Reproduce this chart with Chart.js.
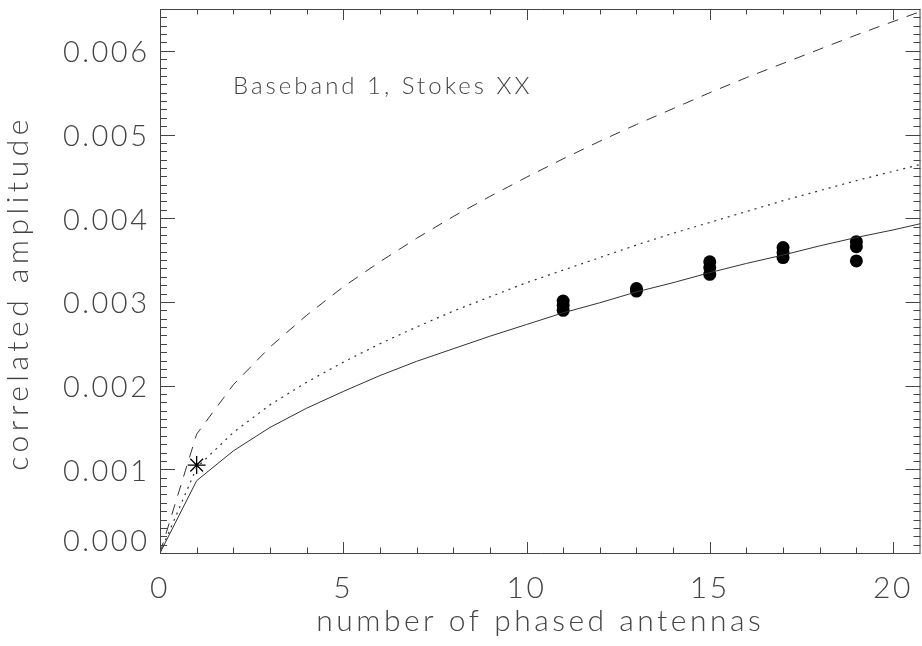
<!DOCTYPE html>
<html>
<head>
<meta charset="utf-8">
<title>Correlated amplitude vs phased antennas</title>
<script src="https://cdn.jsdelivr.net/npm/chart.js@4/dist/chart.umd.min.js"></script>
<style>
  html, body { margin: 0; padding: 0; background: #fff; }
  #wrap { width: 922px; height: 646px; }
</style>
</head>
<body>
<div id="wrap"><canvas id="diagram" width="922" height="646"></canvas></div>
<script>
// model curves, one value per number of phased antennas
let antennas   = [0, 1, 2, 3, 4, 5, 6, 7, 8, 9, 10, 11, 12, 13, 14, 15, 16, 17, 18, 19, 20, 21];
let ampSolid   = [0, 0.000864, 0.00122, 0.00150, 0.00173, 0.00193, 0.00212, 0.00229, 0.00244, 0.00259, 0.00273,
                  0.00287, 0.00299, 0.00312, 0.00323, 0.00335, 0.00346, 0.00356, 0.00367, 0.00377, 0.00386, 0.00396];
let ampDotted  = [0, 0.00102, 0.00144, 0.00177, 0.00204, 0.00228, 0.00250, 0.00270, 0.00289, 0.00306, 0.00323,
                  0.00338, 0.00353, 0.00368, 0.00382, 0.00395, 0.00408, 0.00421, 0.00433, 0.00445, 0.00456, 0.00467];
let ampDashed  = [0, 0.00142, 0.00201, 0.00246, 0.00284, 0.00318, 0.00348, 0.00376, 0.00402, 0.00426, 0.00449,
                  0.00471, 0.00492, 0.00512, 0.00531, 0.00550, 0.00568, 0.00585, 0.00602, 0.00619, 0.00635, 0.00651];

// measured amplitudes
let measuredN   = [11, 11, 11, 13, 13, 15, 15, 15, 17, 17, 17, 19, 19, 19];
let measuredAmp = [0.00301, 0.00296, 0.00290, 0.00316, 0.00313, 0.00348, 0.00341, 0.00333,
                   0.00365, 0.00359, 0.00353, 0.00372, 0.00366, 0.00349];

// single antenna
let singleN   = [1];
let singleAmp = [0.00105];

let xTicks      = [0, 5, 10, 15, 20];
let xTickLabels = ['0', '5', '10', '15', '20'];
let yTicks      = [0, 0.001, 0.002, 0.003, 0.004, 0.005, 0.006];
let yTickLabels = ['0.000', '0.001', '0.002', '0.003', '0.004', '0.005', '0.006'];

let xTitle = 'number of phased antennas';
let yTitle = 'correlated amplitude';
let plotNote = 'Baseband 1, Stokes XX';

let xMax = 20.75;
let yMax = 0.0065;

let fontFamily = "Lato, 'DejaVu Sans', sans-serif";
let textColor = '#444';
let lineColor = '#333';

function points(xs, ys) {
    return xs.map((x, i) => ({ x: x, y: ys[i] }));
}

// drop the label overflow padding so the plot box sits where the layout puts it
function noPadding(s) {
    s.paddingTop = 0;
    s.paddingBottom = 0;
    s.paddingLeft = 0;
    s.paddingRight = 0;
}

// wide, light lettering for the tick labels
let spacingPlugin = {
    id: 'spacing',
    beforeDraw(chart) { chart.ctx.letterSpacing = '2.5px'; },
    afterDraw(chart) { chart.ctx.letterSpacing = '0px'; }
};

// box with inward ticks on all four sides, axis titles and the annotation
let framePlugin = {
    id: 'frame',
    afterDatasetsDraw(chart) {
        let ctx = chart.ctx;
        let a = chart.chartArea;
        let xs = chart.scales.x;
        let ys = chart.scales.y;

        ctx.save();
        ctx.strokeStyle = '#444';
        ctx.lineWidth = 1;
        ctx.beginPath();
        ctx.rect(a.left + 0.5, a.top + 0.5, a.right - a.left - 1, a.bottom - a.top);
        ctx.stroke();

        ctx.beginPath();
        for (let v = 0; v <= xMax + 1e-9; v += 1) {
            let px = Math.round(xs.getPixelForValue(v)) + 0.5;
            let len = xTicks.includes(v) ? 11 : 5.5;
            ctx.moveTo(px, a.bottom);
            ctx.lineTo(px, a.bottom - len);
            ctx.moveTo(px, a.top);
            ctx.lineTo(px, a.top + len);
        }
        for (let k = 0; k <= 65; k++) {
            let v = k / 10000;
            let py = Math.round(ys.getPixelForValue(v)) + 0.5;
            let len = k % 10 === 0 ? 15 : 7;
            ctx.moveTo(a.left, py);
            ctx.lineTo(a.left + len, py);
            ctx.moveTo(a.right, py);
            ctx.lineTo(a.right - len, py);
        }
        ctx.stroke();

        ctx.fillStyle = textColor;
        ctx.textBaseline = 'middle';

        ctx.letterSpacing = '3px';
        ctx.font = '300 24px ' + fontFamily;
        ctx.textAlign = 'left';
        ctx.fillText(plotNote, a.left + 73, a.top + 77);

        ctx.letterSpacing = '3.5px';
        ctx.font = '300 30px ' + fontFamily;
        ctx.textAlign = 'center';
        ctx.fillText(xTitle, (a.left + a.right) / 2, 621);

        ctx.letterSpacing = '4.5px';
        ctx.translate(18, 293);
        ctx.rotate(-Math.PI / 2);
        ctx.fillText(yTitle, 0, 0);
        ctx.restore();
    }
};

let createChartConfig = () => {
    return {
        type: 'scatter',
        data: {
            datasets: [
                { data: points(antennas, ampSolid), showLine: true, borderColor: lineColor,
                  borderWidth: 1, pointRadius: 0, tension: 0 },
                { data: points(antennas, ampDotted), showLine: true, borderColor: lineColor,
                  borderWidth: 1.2, borderDash: [2, 5], pointRadius: 0, tension: 0 },
                { data: points(antennas, ampDashed), showLine: true, borderColor: lineColor,
                  borderWidth: 1, borderDash: [11, 9], pointRadius: 0, tension: 0 },
                { data: points(measuredN, measuredAmp), showLine: false, pointStyle: 'circle',
                  pointRadius: 6.5, backgroundColor: '#000', borderWidth: 0 },
                { data: points(singleN, singleAmp), showLine: false, pointStyle: 'star',
                  pointRadius: 9, borderColor: '#000', borderWidth: 1.3 }
            ]
        },
        options: {
            responsive: false,
            animation: false,
            devicePixelRatio: 1,
            layout: { autoPadding: false, padding: { top: 9, right: 1.5, left: 0, bottom: 0 } },
            plugins: { legend: { display: false }, tooltip: { enabled: false } },
            scales: {
                x: {
                    type: 'linear', min: 0, max: xMax,
                    grid: { display: false, drawTicks: false }, border: { display: false },
                    afterBuildTicks: s => { s.ticks = xTicks.map(v => ({ value: v })); },
                    afterFit: s => { s.height = 93; noPadding(s); },
                    ticks: {
                        callback: (v, i) => xTickLabels[i],
                        font: { family: fontFamily, size: 30, weight: 300 },
                        color: textColor, padding: 17.5, maxRotation: 0
                    }
                },
                y: {
                    type: 'linear', min: 0, max: yMax,
                    grid: { display: false, drawTicks: false }, border: { display: false },
                    afterBuildTicks: s => { s.ticks = yTicks.map(v => ({ value: v })); },
                    afterFit: s => { s.width = 160; noPadding(s); },
                    ticks: {
                        // the zero label gets an empty second line so it sits up off the x axis
                        callback: (v, i) => i === 0 ? [yTickLabels[i], ''] : yTickLabels[i],
                        font: { family: fontFamily, size: 29, weight: 300, lineHeight: '26px' },
                        color: textColor, padding: 10.5, labelOffset: 2
                    }
                }
            }
        },
        plugins: [spacingPlugin, framePlugin]
    };
};

let chart = new Chart(document.getElementById('diagram'), createChartConfig());
</script>
</body>
</html>
